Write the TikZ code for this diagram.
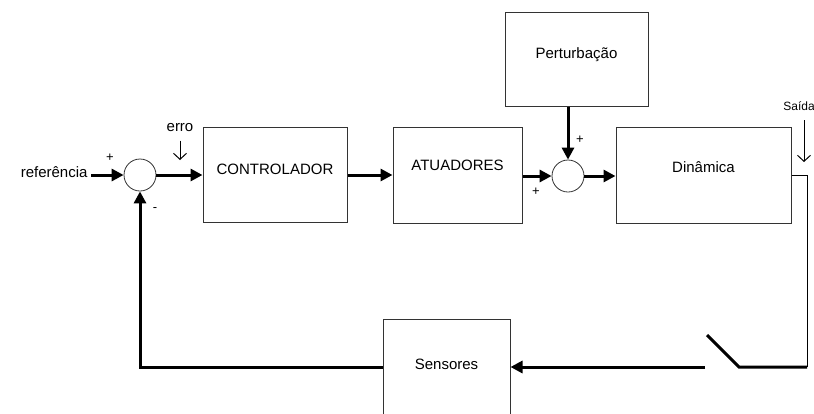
\documentclass[tikz,border=0pt]{standalone}
\usepackage{amsmath}
\usepackage{xcolor}
\usepackage{fontspec}
\setmainfont{Liberation Sans}
\usepackage{tikz}
\usetikzlibrary{shapes,arrows.meta}

\begin{document}
\begin{tikzpicture}[
        x=1pt, y=-1pt,
        font=\fontsize{15}{18}\selectfont,
        block/.style={draw=black!80, line width=1pt, inner sep=0pt},
        summer/.style={draw=black!80, circle, line width=0.8pt, minimum size=32pt, inner sep=0pt},
        signal/.style={line width=3pt, -{Triangle[length=12pt,width=12pt]}},
        wire/.style={line width=3pt},
        tapline/.style={line width=1pt},
        pointer/.style={line width=1pt, -{Straight Barb[length=6pt,width=13pt]}},
        sign/.style={font=\fontsize{13}{14}\selectfont, inner sep=0pt}
      ]
      \clip (0,0) rectangle (814,413);
      \node[block, minimum width=144pt, minimum height=95pt,
        label={[yshift=5pt]center:CONTROLADOR}] (ctrl) at (275,174.5) {};
      \node[block, minimum width=129pt, minimum height=96pt,
        label={[yshift=10pt]center:ATUADORES}] (atu) at (457.5,175) {};
      \node[block, minimum width=143pt, minimum height=94pt,
        label={[yshift=4pt]center:Perturbação}] (pert) at (576.5,59) {};
      \node[block, minimum width=175pt, minimum height=96pt,
        label={[yshift=8pt]center:Dinâmica}] (din) at (703.5,175) {};
      \node[block, minimum width=127pt, minimum height=96pt,
        label={[yshift=3pt]center:Sensores}] (sens) at (446.5,367) {};
      \node[summer] (s1) at (140,175) {};
      \node[summer] (s2) at (568,176) {};
      \node[anchor=east] (ref) at (91,172) {referência};
      \node (erro) at (180,128) {erro};
      \node[font=\fontsize{12}{14}\selectfont] (saida) at (799,106) {Saída};
      \node[sign] (p1) at (110,158) {+};
      \node[sign] (m1) at (155,210) {-};
      \node[sign] (p2) at (580,140) {+};
      \node[sign] (p3) at (536,192) {+};
      \coordinate (erroTip) at (180,160);
      \coordinate (saidaTip) at (804,162);
      \coordinate (tap) at (807,175);
      \coordinate (swA) at (739,367);
      \coordinate (swB) at (707,335);
      \coordinate (swC) at (705,367);

      \draw[signal] (ref.east |- s1.west) -- (s1.west);
      \draw[signal] (s1.east) -- (s1.east -| ctrl.west);
      \draw[signal] (ctrl.east |- atu.west) -- (atu.west);
      \draw[signal] (s2.west -| atu.east) -- (s2.west);
      \draw[signal] (s2.north |- pert.south) -- (s2.north);
      \draw[signal] (s2.east) -- (s2.east -| din.west);
      \draw[tapline] (din.east) -- (tap) -- (tap |- swA);
      \draw[wire] (tap |- swA) -- (swA) -- (swB);
      \draw[signal] (swC) -- (sens.east |- swC);
      \draw[signal] (sens.west) -| (s1.south);
      \draw[pointer] (erro.south) ++(0,5) -- (erroTip);
      \draw[pointer] (saida.south -| saidaTip) ++(0,6) -- (saidaTip);
    \end{tikzpicture}
\end{document}
